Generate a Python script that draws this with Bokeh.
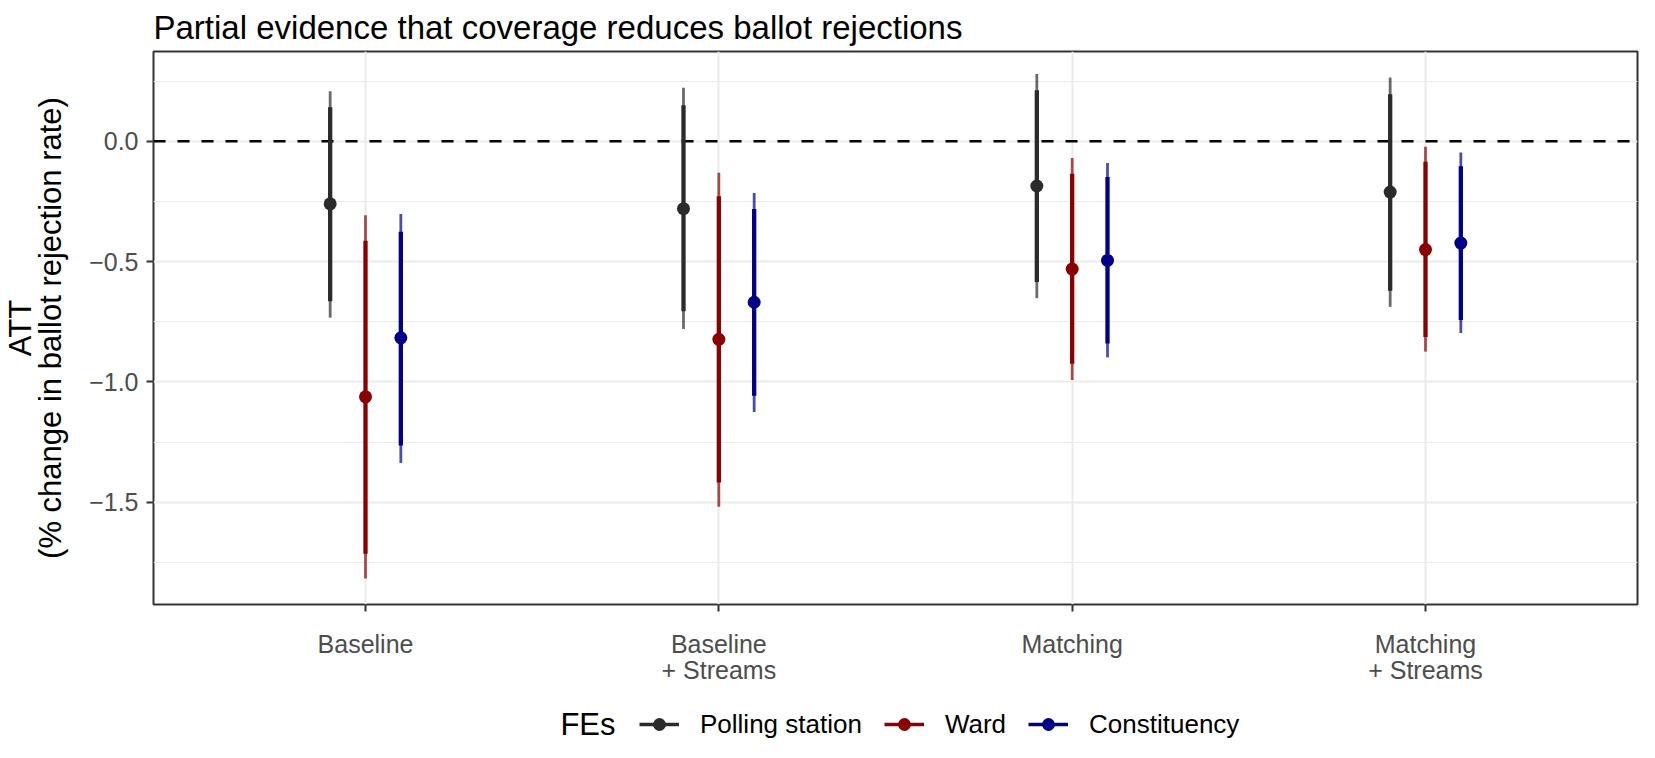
from bokeh.plotting import figure
from bokeh.models import (ColumnDataSource, FactorRange, Range1d, FixedTicker,
                          CustomJSTickFormatter, Span, Legend, LegendItem, Label)
from bokeh.transform import dodge
from bokeh.layouts import column
from bokeh.embed import file_html
from bokeh.resources import INLINE

# ---------------- data ----------------
categories = ["Baseline", "Baseline\n+ Streams", "Matching", "Matching\n+ Streams"]
series_names = ["Polling station", "Ward", "Constituency"]
series_colors = ["#2b2b2b", "#8b0000", "#00008b"]
series_offsets = [-0.1, 0.0, 0.1]

polling_est = [-0.260, -0.280, -0.186, -0.211]
polling_inner_lo = [-0.665, -0.706, -0.585, -0.621]
polling_inner_hi = [0.141, 0.150, 0.212, 0.195]
polling_outer_lo = [-0.733, -0.780, -0.652, -0.688]
polling_outer_hi = [0.208, 0.222, 0.279, 0.265]

ward_est = [-1.062, -0.823, -0.531, -0.450]
ward_inner_lo = [-1.714, -1.418, -0.925, -0.813]
ward_inner_hi = [-0.413, -0.229, -0.135, -0.085]
ward_outer_lo = [-1.817, -1.519, -0.992, -0.874]
ward_outer_hi = [-0.307, -0.131, -0.070, -0.023]

const_est = [-0.817, -0.669, -0.495, -0.423]
const_inner_lo = [-1.264, -1.058, -0.840, -0.743]
const_inner_hi = [-0.376, -0.282, -0.148, -0.104]
const_outer_lo = [-1.337, -1.125, -0.898, -0.797]
const_outer_hi = [-0.302, -0.215, -0.090, -0.047]

y_ticks = [-1.5, -1.0, -0.5, 0.0]
y_minor_ticks = [-1.75, -1.25, -0.75, -0.25, 0.25]

title_text = "Partial evidence that coverage reduces ballot rejections"
y_label = "ATT\n(% change in ballot rejection rate)"
legend_title = "FEs"

series_data = [
    (polling_est, polling_inner_lo, polling_inner_hi, polling_outer_lo, polling_outer_hi),
    (ward_est, ward_inner_lo, ward_inner_hi, ward_outer_lo, ward_outer_hi),
    (const_est, const_inner_lo, const_inner_hi, const_outer_lo, const_outer_hi),
]

FONT = "Liberation Sans"
W = 1639
H_MAIN = 706
H_LEG = 36
LEFT = 149
RIGHT = 2

# ---------------- main figure ----------------
p = figure(width=W, height=H_MAIN,
           x_range=FactorRange(factors=categories, range_padding=0.05),
           y_range=Range1d(-1.925, 0.373),
           output_backend="svg", toolbar_location=None,
           min_border_left=LEFT, min_border_right=RIGHT,
           min_border_top=49, min_border_bottom=102,
           background_fill_color="white", border_fill_color="white")

p.outline_line_color = "#333333"
p.outline_line_width = 2

p.xgrid.grid_line_color = "#ebebeb"
p.xgrid.grid_line_width = 2.1
p.ygrid.grid_line_color = "#ebebeb"
p.ygrid.grid_line_width = 2.1
p.ygrid.minor_grid_line_color = "#ebebeb"
p.ygrid.minor_grid_line_width = 1.2

for ax in (p.xaxis[0], p.yaxis[0]):
    ax.axis_line_color = None
    ax.major_tick_line_color = "#333333"
    ax.major_tick_line_width = 2
    ax.major_tick_out = 7
    ax.major_tick_in = 0
    ax.minor_tick_line_color = None
    ax.major_label_text_font = FONT
    ax.major_label_text_font_size = "25px"
    ax.major_label_text_color = "#4d4d4d"

p.yaxis.ticker = FixedTicker(ticks=y_ticks, minor_ticks=y_minor_ticks)
p.yaxis.formatter = CustomJSTickFormatter(
    code="return (tick < 0 ? '\u2212' : '') + Math.abs(tick).toFixed(1);")
p.yaxis.major_label_standoff = 8
p.yaxis.axis_label = y_label
p.yaxis.axis_label_text_font = FONT
p.yaxis.axis_label_text_font_size = "31px"
p.yaxis.axis_label_text_font_style = "normal"
p.yaxis.axis_label_text_color = "black"
p.yaxis.axis_label_text_line_height = 0.85
p.yaxis.axis_label_standoff = 18

p.xaxis.major_label_standoff = 18
p.xaxis.major_label_text_line_height = 0.93

p.title.text = title_text
p.title.text_font = FONT
p.title.text_font_size = "33px"
p.title.text_font_style = "normal"
p.title.text_color = "black"
p.title.align = "left"
p.title.standoff = 12

zero = Span(location=0, dimension="width", line_color="black",
            line_width=2.6, line_dash="12 12", level="underlay")
p.add_layout(zero)

# ---------------- legend strip (same series, drawn off-range: only keys show) ----
lg = figure(width=W, height=H_LEG,
            x_range=FactorRange(factors=categories, range_padding=0.05),
            y_range=Range1d(10, 11),
            x_axis_type=None, y_axis_type=None,
            output_backend="svg", toolbar_location=None,
            min_border_left=LEFT, min_border_right=RIGHT,
            min_border_top=0, min_border_bottom=0, outline_line_color=None,
            background_fill_color="white", border_fill_color="white")
lg.xgrid.visible = False
lg.ygrid.visible = False

items = []
for name, color, off, (est, ilo, ihi, olo, ohi) in zip(series_names, series_colors,
                                                      series_offsets, series_data):
    src = ColumnDataSource(dict(cat=categories, est=est, ilo=ilo, ihi=ihi,
                                olo=olo, ohi=ohi))
    xd = dodge("cat", off, range=p.x_range)
    p.segment(x0=xd, y0="olo", x1=xd, y1="ohi", source=src,
              line_color=color, line_alpha=0.7, line_width=2.8)
    p.segment(x0=xd, y0="ilo", x1=xd, y1="ihi", source=src,
              line_color=color, line_width=4.3)
    p.scatter(x=xd, y="est", source=src, size=13,
              fill_color=color, line_color=None)

    xd2 = dodge("cat", off, range=lg.x_range)
    kl = lg.segment(x0=xd2, y0="ilo", x1=xd2, y1="ihi", source=src,
                    line_color=color, line_width=3.6)
    kp = lg.scatter(x=xd2, y="est", source=src, size=13,
                    fill_color=color, line_color=None)
    items.append(LegendItem(label=name, renderers=[kl, kp]))

legend = Legend(items=items, orientation="horizontal", location=(486, 2),
                glyph_width=40, glyph_height=32, label_standoff=21, spacing=22,
                padding=0, margin=0, border_line_color=None,
                background_fill_alpha=0, inactive_fill_alpha=0,
                label_text_font=FONT, label_text_font_size="26px",
                label_text_color="black")
lg.add_layout(legend, "center")

lg.add_layout(Label(x=462, y=18, x_units="screen", y_units="screen",
                    text=legend_title, text_font=FONT, text_font_size="31px",
                    text_align="right", text_baseline="middle", text_color="black"))

layout = column(p, lg, spacing=0)
open("out.html", "w").write(file_html(layout, INLINE))
